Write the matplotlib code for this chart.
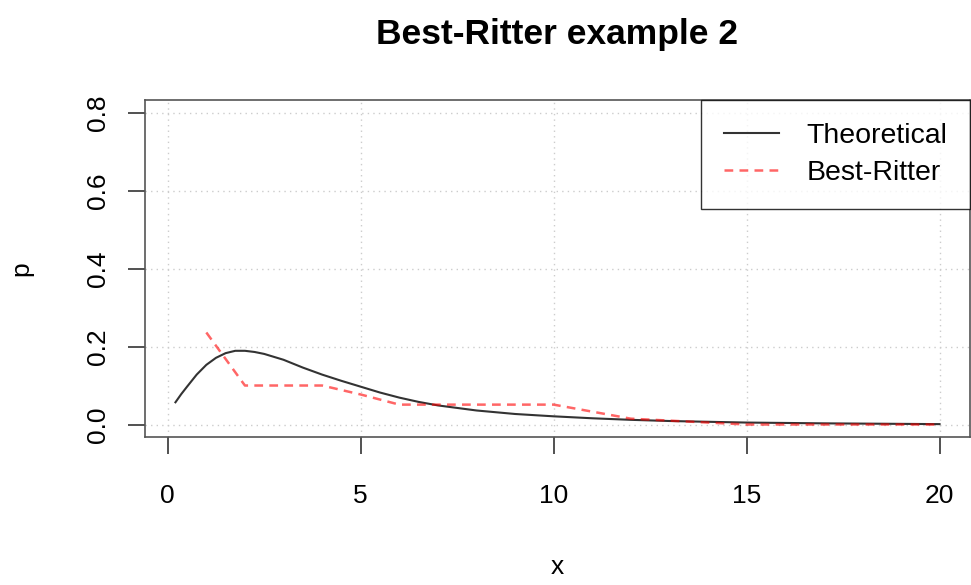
import matplotlib.pyplot as plt

# theoretical density
x_theo = [0.2, 0.35, 0.5, 0.75, 1.0, 1.25, 1.5, 1.75, 2.0, 2.25, 2.5, 3.0, 3.5, 4.0, 4.5,
          5.0, 5.5, 6.0, 6.5, 7.0, 8.0, 9.0, 10.0, 11.0, 12.0, 13.0, 15.0, 17.0, 20.0]
p_theo = [0.057, 0.078, 0.097, 0.128, 0.153, 0.171, 0.183, 0.189, 0.189, 0.186, 0.181,
          0.166, 0.146, 0.128, 0.112, 0.097, 0.082, 0.069, 0.058, 0.049, 0.036, 0.027,
          0.021, 0.016, 0.012, 0.009, 0.005, 0.003, 0.001]

# Best-Ritter estimate
x_br = [1, 2, 4, 5, 6, 10, 12, 15, 20]
p_br = [0.236, 0.1, 0.1, 0.077, 0.051, 0.051, 0.015, 0.0, 0.0]

x_ticks = [0, 5, 10, 15, 20]
y_ticks = [0.0, 0.2, 0.4, 0.6, 0.8]

plt.rcParams['font.family'] = ['Liberation Sans', 'DejaVu Sans']

fig = plt.figure(figsize=(9.71, 5.85), dpi=100)
ax = fig.add_axes([0.1493, 0.253, 0.8497, 0.576])

ax.plot(x_theo, p_theo, c='#333333', lw=1.5, label='Theoretical')
ax.plot(x_br, p_br, c='red', alpha=0.6, lw=1.8, ls=(0, (3.5, 2.5)), label='Best-Ritter')

ax.set_xlim(-0.59, 20.79)
ax.set_ylim(-0.032, 0.832)
ax.set_xticks(x_ticks)
ax.set_yticks(y_ticks)
ax.set_xticklabels([str(t) for t in x_ticks])
ax.set_yticklabels(['%.1f' % t for t in y_ticks], rotation=90, va='center')
ax.grid(True, color='#cccccc', ls=(0, (1, 3)), lw=1)
ax.tick_params(axis='both', labelsize=19, length=12, width=1.2, color='#333333')
ax.tick_params(axis='x', pad=22)
ax.tick_params(axis='y', pad=13)

for s in ax.spines.values():
    s.set_color('#555555')
    s.set_linewidth(1.2)

ax.set_title('Best-Ritter example 2', fontsize=25.5, fontweight='bold', pad=40)
ax.set_xlabel('x', fontsize=19, labelpad=34)
ax.set_ylabel('p', fontsize=19, labelpad=38)

leg = ax.legend(loc='upper right', fontsize=20.5, frameon=True, fancybox=False,
                borderaxespad=0, handlelength=1.95, handletextpad=0.95,
                borderpad=0.8, labelspacing=0.4)
leg.get_frame().set_edgecolor('black')
leg.get_frame().set_linewidth(1)

fig.savefig('out.png', dpi=100)
